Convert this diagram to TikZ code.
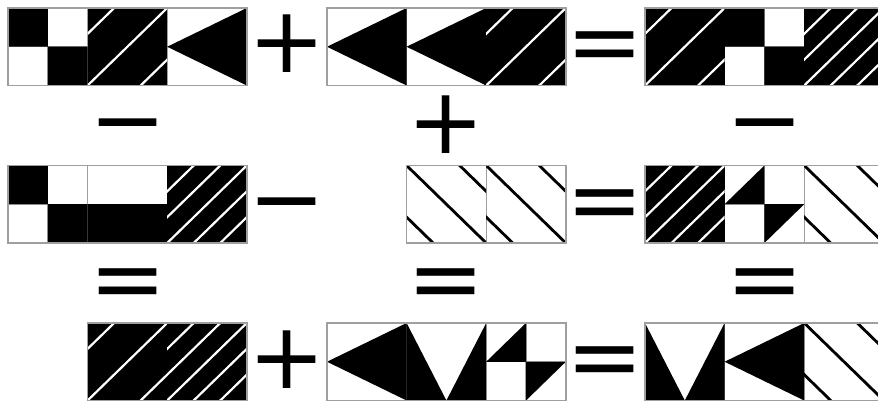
\documentclass[tikz,border=0pt]{standalone}
\usepackage{fontspec}
\newfontfamily\opfont{DejaVu Sans}
\tikzset{
  gridline/.style={draw=gray!75,line width=1.3pt},
  tileborder/.style={draw=gray!75,line width=1.5pt},
  whitehatch/.style={draw=white,line width=2.2pt},
  blackhatch/.style={draw=black,line width=2.8pt},
  op/.style={inner sep=0pt,anchor=base,font=\opfont\fontsize{92}{92}\selectfont}
}
\newcommand\uGrid{\draw[gridline] (0,0) rectangle (1,1);}
\newcommand\uQuad{\draw[gridline] (0.5,0) -- (0.5,1) (0,0.5) -- (1,0.5);}
\newcommand\uChecker{\uQuad\fill (0,0) rectangle (0.5,0.5) (0.5,0.5) rectangle (1,1);}
\newcommand\uTri{\fill (0,0.5) -- (1,0) -- (1,1) -- cycle;}
\newcommand\uVee{\fill (0,0) -- (0.5,1) -- (0,1) -- cycle (1,0) -- (1,1) -- (0.5,1) -- cycle;}
\newcommand\uPin{\uQuad\fill (0,0.5) -- (0.5,0) -- (0.5,0.5) -- cycle (0.5,0.5) -- (1,0.5) -- (0.5,1) -- cycle;}
\newcommand\uHalf{\fill (0,0.5) rectangle (1,1);}
\newcommand\uSparse{\fill (0,0) rectangle (1,1);
  \begin{scope}\clip (0,0) rectangle (1,1);
  \foreach \s in {0.3333,1,1.6667} \draw[whitehatch] (\s+1,-1) -- (\s-2,2);
  \end{scope}}
\newcommand\uDense{\fill (0,0) rectangle (1,1);
  \begin{scope}\clip (0,0) rectangle (1,1);
  \foreach \s in {0.3333,0.6667,1,1.3333,1.6667} \draw[whitehatch] (\s+1,-1) -- (\s-2,2);
  \end{scope}}
\newcommand\uBack{%
  \begin{scope}\clip (0,0) rectangle (1,1);
  \foreach \c in {-0.6667,0,0.6667} \draw[blackhatch] (-1,\c-1) -- (2,\c+2);
  \end{scope}}
% tile: left x, top y, list of unit macros
\newcommand\tileat[3]{%
  \foreach \u [count=\i from 0] in {#3} {%
    \begin{scope}[shift={(#1+\i*79.6,#2)},x={(79.6pt,0pt)},y={(0pt,-77.5pt)}]
      \uGrid
    \end{scope}
  }%
  \foreach \u [count=\i from 0] in {#3} {%
    \begin{scope}[shift={(#1+\i*79.6,#2)},x={(79.6pt,0pt)},y={(0pt,-77.5pt)}]
      \u
    \end{scope}
  }%
  \foreach \u [count=\n] in {#3} {\xdef\tilecount{\n}}%
  \draw[tileborder] (#1,#2) rectangle (#1+\tilecount*79.6,#2+77.5);
}
\begin{document}
\begin{tikzpicture}[x=1pt,y=-1pt]
\useasboundingbox (0,0) rectangle (878,403);
\clip (0,0) rectangle (878,403);
\fill[white] (0,0) rectangle (878,403);
% row 1
\tileat{8}{8}{\uChecker,\uSparse,\uTri}
\tileat{327}{8}{\uTri,\uTri,\uSparse}
\tileat{645}{8}{\uSparse,\uChecker,\uDense}
% row 2
\tileat{8}{165.5}{\uChecker,\uHalf,\uDense}
\tileat{406.6}{165.5}{\uBack,\uBack}
\tileat{645}{165.5}{\uDense,\uPin,\uBack}
% row 3
\tileat{87.6}{323}{\uSparse,\uDense}
\tileat{327}{323}{\uTri,\uVee,\uPin}
\tileat{645}{323}{\uVee,\uTri,\uBack}
% operators (baseline = visual centre + 28)
\node[op] (p11) at (287,73) {+};
\node[op] (e11) at (605,73.5) {=};
\node[op] (m12a) at (128,152) {−};
\node[op] (p12b) at (446,154) {+};
\node[op] (m12c) at (765,152) {−};
\node[op] (m21) at (287,231) {−};
\node[op] (e21) at (605,232) {=};
\node[op] (e23a) at (128,310) {=};
\node[op] (e23b) at (446,310) {=};
\node[op] (e23c) at (765,310) {=};
\node[op] (p31) at (287,388) {+};
\node[op] (e31) at (605,388) {=};
\end{tikzpicture}
\end{document}
